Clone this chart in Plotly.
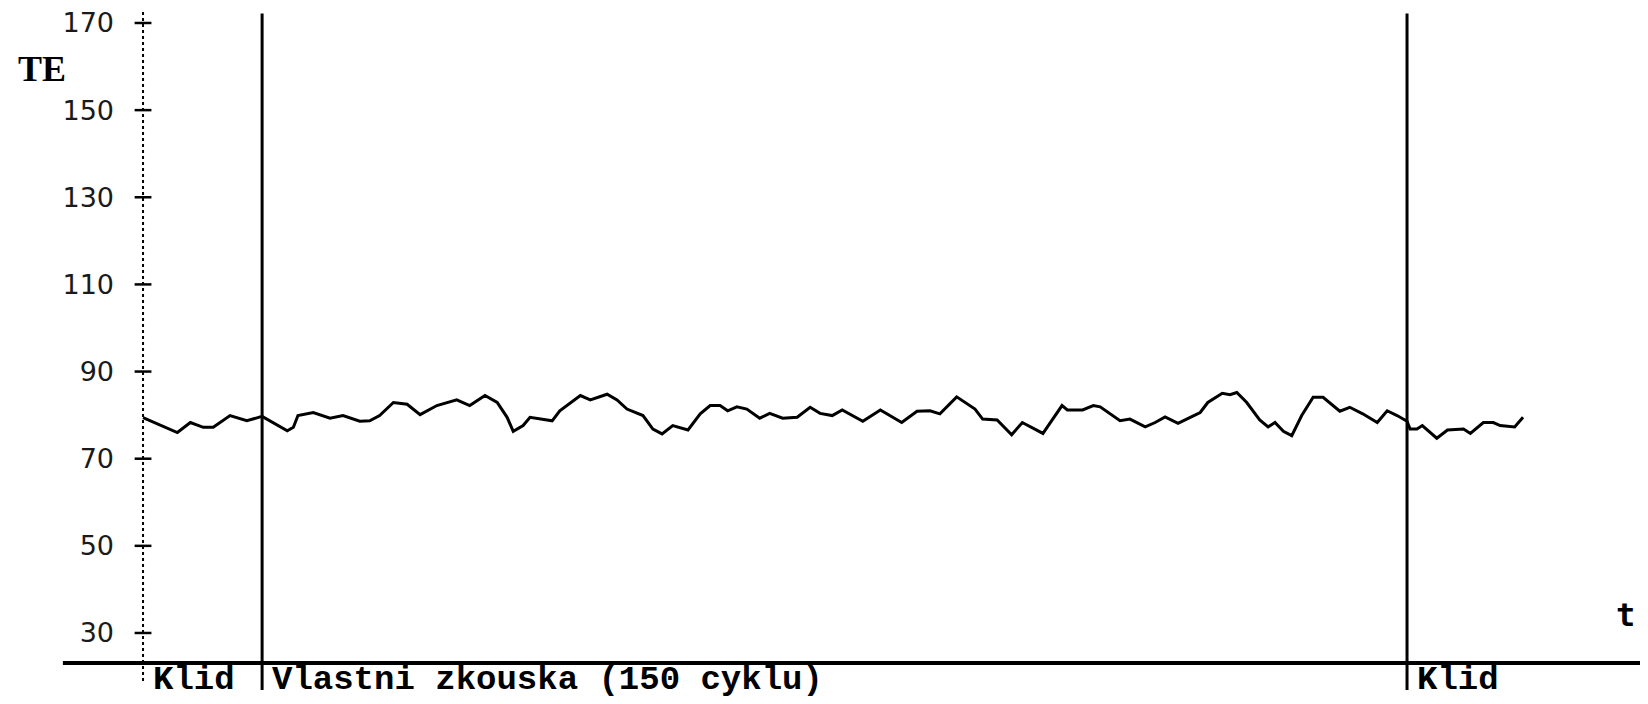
import plotly.graph_objects as go

# ---- data (t in cycles from start of recording, TE values) ----
t = [0, 4.5, 6.2, 7.9, 9.2, 11.4, 13.6, 15.6, 18.9, 19.7, 20.3, 22.3, 24.5, 26.2, 28.4, 29.7,
     31.0, 32.8, 34.6, 36.3, 38.5, 41.1, 42.8, 44.8, 46.4, 47.7, 48.5, 49.8, 50.7, 52.0, 53.6,
     54.6, 57.3, 58.6, 60.8, 62.1, 63.4, 65.5, 66.8, 68.0, 69.4, 71.4, 73.0, 74.3, 75.6, 76.6,
     77.8, 79.1, 80.8, 82.1, 83.8, 85.7, 87.4, 88.7, 90.3, 91.6, 94.3, 96.6, 99.4, 101.4, 103.1,
     104.4, 106.6, 109.0, 110.0, 111.9, 113.8, 115.2, 117.9, 118.6, 120.4, 121.1, 123.1, 124.5,
     125.4, 128.0, 129.3, 131.3, 132.6, 133.9, 135.6, 137.2, 138.5, 139.5, 141.4, 142.4, 143.3,
     144.6, 146.3, 147.4, 148.3, 149.4, 150.5, 151.8, 153.3, 154.6, 156.8, 158.1, 159.8, 161.7,
     163.0, 164.3, 165.6, 166.0, 166.9, 167.6, 169.5, 170.9, 173.0, 173.9, 175.6, 176.9, 177.8,
     179.7, 180.8]
te = [79.4, 76.0, 78.3, 77.2, 77.2, 79.9, 78.7, 79.7, 76.4, 77.2, 79.9, 80.6, 79.3, 79.9, 78.6,
      78.7, 79.9, 82.9, 82.5, 80.1, 82.2, 83.5, 82.2, 84.5, 82.9, 79.5, 76.3, 77.6, 79.5, 79.1,
      78.7, 81.0, 84.5, 83.5, 84.8, 83.5, 81.4, 79.9, 76.8, 75.7, 77.6, 76.6, 80.3, 82.2, 82.2,
      81.0, 81.9, 81.4, 79.3, 80.4, 79.3, 79.5, 81.8, 80.4, 79.9, 81.2, 78.6, 81.2, 78.3, 80.9,
      81.0, 80.3, 84.2, 81.4, 79.1, 78.9, 75.5, 78.3, 75.8, 77.6, 82.2, 81.2, 81.2, 82.2, 81.9,
      78.7, 79.1, 77.3, 78.3, 79.6, 78.1, 79.5, 80.6, 82.9, 85.0, 84.7, 85.2, 82.9, 78.9, 77.3,
      78.3, 76.3, 75.3, 79.9, 84.1, 84.1, 80.9, 81.8, 80.3, 78.3, 81.0, 79.9, 78.6, 76.8, 76.8,
      77.6, 74.7, 76.6, 76.8, 75.8, 78.3, 78.3, 77.6, 77.3, 79.5]

phase_starts = [0, 15.6, 165.6]
phase_labels = ["Klid", "Vlastni zkouska (150 cyklu)", "Klid"]
tick_values = [30, 50, 70, 90, 110, 130, 150, 170]
tick_labels = ["30", "50", "70", "90", "110", "130", "150", "170"]

X_RANGE = [-17.69, 197.17]
Y_RANGE = [13.7, 173.44]
BASE = 23.1

fig = go.Figure()

# data line
fig.add_trace(go.Scatter(x=t, y=te, mode="lines",
                         line=dict(color="black", width=3), hoverinfo="skip"))
# tick marks on the y axis
fig.add_trace(go.Scatter(x=[0] * len(tick_values), y=tick_values, mode="markers",
                         marker=dict(symbol="line-ew", size=12,
                                     line=dict(color="black", width=2.5)),
                         hoverinfo="skip"))

shapes = []
# dotted y axis
shapes.append(dict(type="line", xref="x", yref="y", x0=0, x1=0, y0=19.0, y1=173.0,
                   line=dict(color="black", width=2, dash="dot")))
# baseline (time axis)
shapes.append(dict(type="line", xref="x", yref="y", x0=-10.5, x1=X_RANGE[1], y0=BASE, y1=BASE,
                   line=dict(color="black", width=4)))
# phase boundary lines
for b in phase_starts[1:]:
    shapes.append(dict(type="line", xref="x", yref="y", x0=b, x1=b, y0=16.9, y1=172.2,
                       line=dict(color="black", width=3)))

annotations = []
for s, lab in zip(phase_starts, phase_labels):
    annotations.append(dict(x=s, y=19.2, xref="x", yref="y", text=lab, showarrow=False,
                            xanchor="left", yanchor="middle", xshift=8,
                            font=dict(family="Liberation Mono", size=34, color="black",
                                      weight="bold")))
annotations.append(dict(x=-13.2, y=159.4, xref="x", yref="y", text="TE", showarrow=False,
                        xanchor="center", yanchor="middle",
                        font=dict(family="Liberation Serif", size=36, color="black",
                                  weight="bold")))
annotations.append(dict(x=194.2, y=34.1, xref="x", yref="y", text="t", showarrow=False,
                        xanchor="center", yanchor="middle",
                        font=dict(family="DejaVu Sans Mono", size=32, color="black",
                                  weight="bold")))

fig.update_layout(
    width=1640, height=696,
    margin=dict(l=0, r=0, t=0, b=0),
    paper_bgcolor="white", plot_bgcolor="white",
    showlegend=False,
    shapes=shapes, annotations=annotations,
    xaxis=dict(range=X_RANGE, visible=False, fixedrange=True),
    yaxis=dict(range=Y_RANGE, anchor="free", position=135 / 1640,
               tickvals=tick_values, ticktext=tick_labels,
               showline=False, showgrid=False, zeroline=False, ticks="",
               ticklabelstandoff=29, automargin=False, ticklabeloverflow="allow",
               tickfont=dict(family="DejaVu Sans", size=27, color="#1a1a1a")),
)

fig.write_html("out.html")
